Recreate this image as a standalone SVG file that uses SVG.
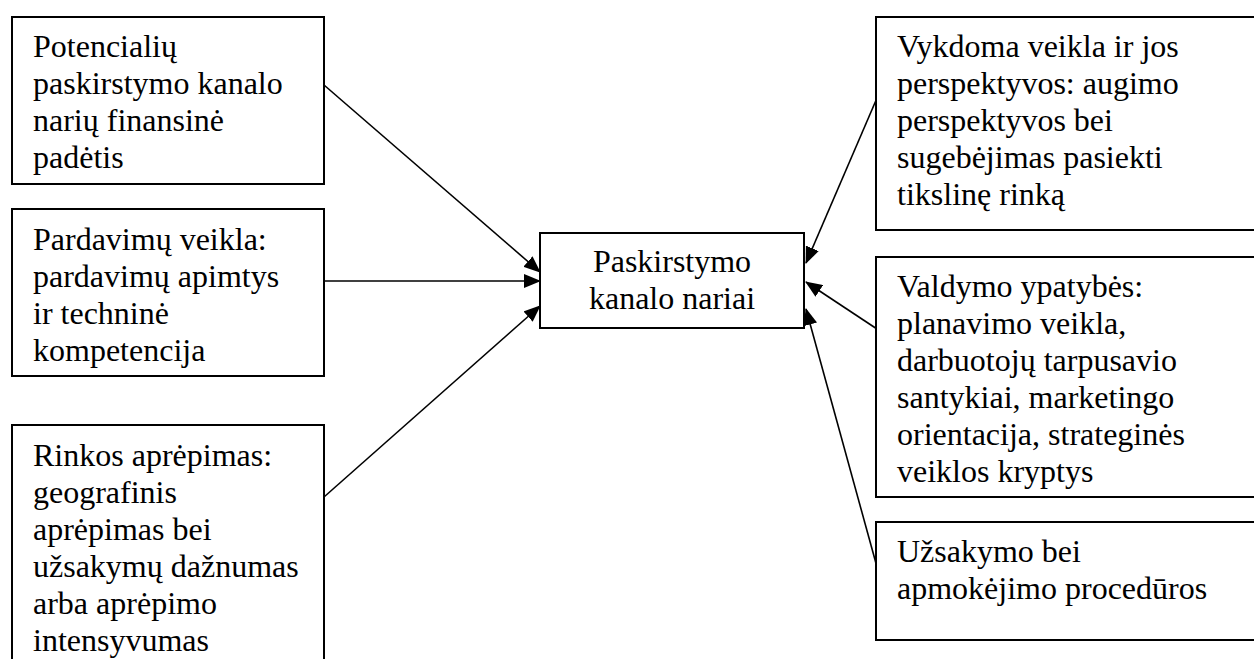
<svg xmlns="http://www.w3.org/2000/svg" width="1254" height="659" viewBox="0 0 1254 659">
  <style>
    .box { fill: #ffffff; stroke: #000000; stroke-width: 2; }
    .lbl { font-family: 'Liberation Serif', 'Times New Roman', serif; font-size: 32px; fill: #000000; }
    .ctr { text-anchor: middle; }
    .edge { stroke: #000000; stroke-width: 1.6; fill: none; marker-end: url(#arrow); }
  </style>
  <defs>
    <marker id="arrow" markerUnits="userSpaceOnUse" markerWidth="18" markerHeight="14" refX="16" refY="7" orient="auto">
      <path d="M0,0 L17,7 L0,14 Z" fill="#000000"/>
    </marker>
  </defs>

  <rect width="1254" height="659" fill="#ffffff"/>

  <!-- connectors -->
  <g id="connectors">
    <line class="edge" x1="324" y1="85" x2="540" y2="272"/>
    <line class="edge" x1="324" y1="281" x2="540" y2="281"/>
    <line class="edge" x1="324" y1="497" x2="540" y2="306"/>
    <line class="edge" x1="877" y1="98" x2="806" y2="263"/>
    <line class="edge" x1="877" y1="329" x2="806" y2="282"/>
    <line class="edge" x1="877" y1="567" x2="806" y2="309"/>
  </g>

  <g id="nodes" class="lbl">
    <!-- left column -->
    <g id="node-finance">
      <rect class="box" x="12" y="17" width="312" height="167"/>
      <text x="33" y="57">Potencialių</text>
      <text x="33" y="94">paskirstymo kanalo</text>
      <text x="33" y="131">narių finansinė</text>
      <text x="33" y="168">padėtis</text>
    </g>

    <g id="node-sales">
      <rect class="box" x="12" y="209" width="312" height="167"/>
      <text x="33" y="250">Pardavimų veikla:</text>
      <text x="33" y="287">pardavimų apimtys</text>
      <text x="33" y="324">ir techninė</text>
      <text x="33" y="361">kompetencija</text>
    </g>

    <g id="node-coverage">
      <rect class="box" x="12" y="425" width="312" height="260"/>
      <text x="33" y="466">Rinkos aprėpimas:</text>
      <text x="33" y="503">geografinis</text>
      <text x="33" y="540">aprėpimas bei</text>
      <text x="33" y="577">užsakymų dažnumas</text>
      <text x="33" y="614">arba aprėpimo</text>
      <text x="33" y="651">intensyvumas</text>
    </g>

    <!-- centre -->
    <g id="node-members">
      <rect class="box" x="540" y="233" width="264" height="95"/>
      <text class="ctr" x="672" y="272">Paskirstymo</text>
      <text class="ctr" x="672" y="309">kanalo nariai</text>
    </g>

    <!-- right column -->
    <g id="node-activity">
      <rect class="box" x="876" y="17" width="400" height="213"/>
      <text x="897" y="57">Vykdoma veikla ir jos</text>
      <text x="897" y="94">perspektyvos: augimo</text>
      <text x="897" y="131">perspektyvos bei</text>
      <text x="897" y="168">sugebėjimas pasiekti</text>
      <text x="897" y="205">tikslinę rinką</text>
    </g>

    <g id="node-management">
      <rect class="box" x="876" y="257" width="400" height="240"/>
      <text x="897" y="297">Valdymo ypatybės:</text>
      <text x="897" y="334">planavimo veikla,</text>
      <text x="897" y="371">darbuotojų tarpusavio</text>
      <text x="897" y="408">santykiai, marketingo</text>
      <text x="897" y="445">orientacija, strateginės</text>
      <text x="897" y="482">veiklos kryptys</text>
    </g>

    <g id="node-ordering">
      <rect class="box" x="876" y="522" width="400" height="118"/>
      <text x="897" y="562">Užsakymo bei</text>
      <text x="897" y="599">apmokėjimo procedūros</text>
    </g>
  </g>
</svg>
